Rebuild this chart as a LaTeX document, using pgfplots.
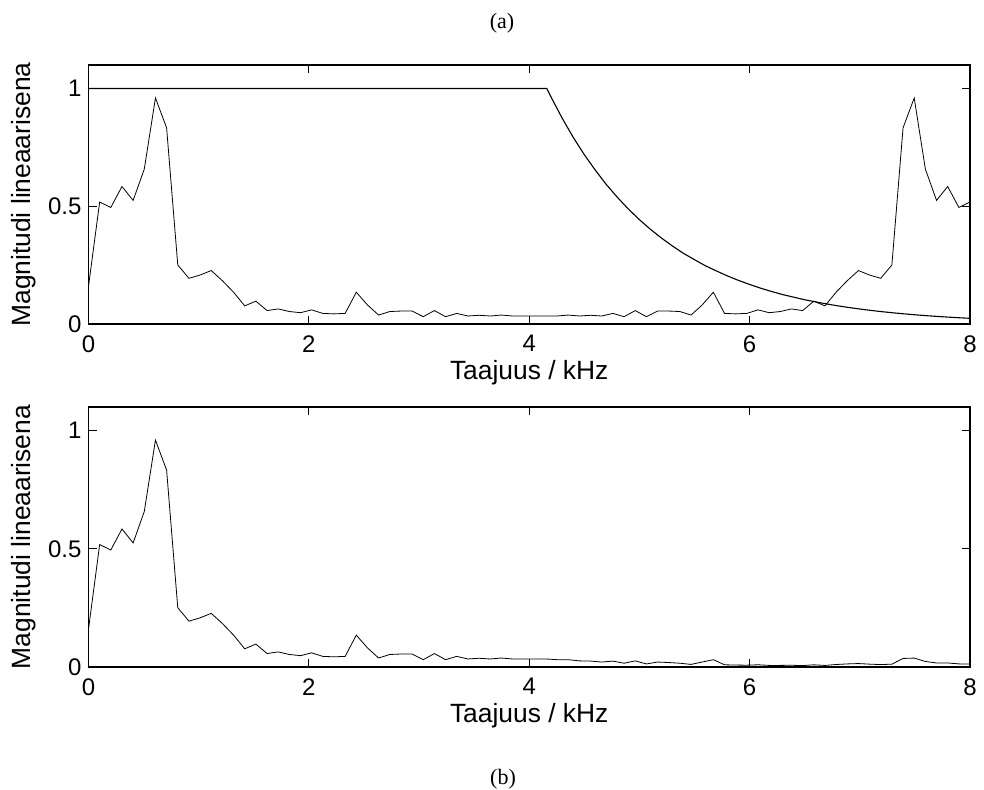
\documentclass[border=0pt]{standalone}
\usepackage{fontspec}
\setmainfont{Liberation Sans}
\newfontfamily\timesf{Liberation Serif}
\usepackage{pgfplots}
\usepackage{pgfplotstable}
\pgfplotsset{compat=1.18}

\pgfplotstableread{
x y
0 0.160
0.1013 0.518
0.2025 0.495
0.3038 0.584
0.4051 0.525
0.5063 0.658
0.6076 0.960
0.7089 0.833
0.8101 0.251
0.9114 0.194
1.0127 0.208
1.1139 0.227
1.2152 0.184
1.3165 0.135
1.4177 0.077
1.5190 0.097
1.6203 0.057
1.7215 0.064
1.8228 0.053
1.9241 0.048
2.0253 0.060
2.1266 0.045
2.2278 0.043
2.3291 0.045
2.4304 0.135
2.5316 0.081
2.6329 0.038
2.7342 0.053
2.8354 0.055
2.9367 0.055
3.0380 0.031
3.1392 0.057
3.2405 0.031
3.3418 0.045
3.4430 0.034
3.5443 0.037
3.6456 0.034
3.7468 0.038
3.8481 0.034
3.9494 0.034
4.0506 0.034
4.1519 0.034
4.2532 0.034
4.3544 0.038
4.4557 0.034
4.5570 0.037
4.6582 0.034
4.7595 0.045
4.8608 0.031
4.9620 0.057
5.0633 0.031
5.1646 0.055
5.2658 0.055
5.3671 0.053
5.4684 0.038
5.5696 0.081
5.6709 0.135
5.7722 0.045
5.8734 0.043
5.9747 0.045
6.0759 0.060
6.1772 0.048
6.2785 0.053
6.3797 0.064
6.4810 0.057
6.5823 0.097
6.6835 0.077
6.7848 0.135
6.8861 0.184
6.9873 0.227
7.0886 0.208
7.1899 0.194
7.2911 0.251
7.3924 0.833
7.4937 0.960
7.5949 0.658
7.6962 0.525
7.7975 0.584
7.8987 0.495
8.0 0.518
}\specA

\pgfplotstableread{
x y
0 1
4.16 1
4.2 0.962
4.3 0.873
4.4 0.792
4.5 0.719
4.6 0.653
4.7 0.592
4.8 0.538
4.9 0.488
5.0 0.443
5.1 0.402
5.2 0.365
5.3 0.331
5.4 0.300
5.5 0.273
5.6 0.247
5.7 0.225
5.8 0.204
5.9 0.185
6.0 0.168
6.1 0.152
6.2 0.138
6.3 0.125
6.4 0.114
6.5 0.103
6.6 0.0938
6.7 0.0851
6.8 0.0772
6.9 0.0701
7.0 0.0636
7.1 0.0577
7.2 0.0524
7.3 0.0476
7.4 0.0432
7.5 0.0392
7.6 0.0355
7.7 0.0323
7.8 0.0293
7.9 0.0266
8.0 0.0241
}\filt

\pgfplotstableread{
x y
0 0.160
0.1013 0.518
0.2025 0.495
0.3038 0.584
0.4051 0.525
0.5063 0.658
0.6076 0.960
0.7089 0.833
0.8101 0.251
0.9114 0.194
1.0127 0.208
1.1139 0.227
1.2152 0.184
1.3165 0.135
1.4177 0.077
1.5190 0.097
1.6203 0.057
1.7215 0.064
1.8228 0.053
1.9241 0.048
2.0253 0.060
2.1266 0.045
2.2278 0.043
2.3291 0.045
2.4304 0.135
2.5316 0.081
2.6329 0.038
2.7342 0.053
2.8354 0.055
2.9367 0.055
3.0380 0.031
3.1392 0.057
3.2405 0.031
3.3418 0.045
3.4430 0.034
3.5443 0.037
3.6456 0.034
3.7468 0.038
3.8481 0.034
3.9494 0.034
4.0506 0.034
4.1519 0.034
4.2532 0.031
4.3544 0.031
4.4557 0.026
4.5570 0.025
4.6582 0.021
4.7595 0.025
4.8608 0.016
4.9620 0.026
5.0633 0.013
5.1646 0.021
5.2658 0.019
5.3671 0.016
5.4684 0.011
5.5696 0.021
5.6709 0.031
5.7722 0.0094
5.8734 0.0082
5.9747 0.0077
6.0759 0.0094
6.1772 0.0068
6.2785 0.0068
6.3797 0.0074
6.4810 0.0060
6.5823 0.0093
6.6835 0.0067
6.7848 0.0106
6.8861 0.0131
6.9873 0.0146
7.0886 0.0121
7.1899 0.0103
7.2911 0.0120
7.3924 0.0362
7.4937 0.0378
7.5949 0.0235
7.6962 0.0170
7.7975 0.0172
7.8987 0.0132
8.0 0.0125
}\specB

\pgfplotsset{
  myax/.style={
    scale only axis,
    width=440.75pt,
    xmin=0, xmax=8, ymin=0, ymax=1.1,
    xtick={0,2,4,6,8}, ytick={0,0.5,1},
    tick align=inside,
    major tick length=4pt,
    tick style={black, line width=0.5pt},
    axis line style={black, line width=0.6pt},
    ticklabel style={font=\fontsize{12}{14}\selectfont},
    /pgf/number format/assume math mode=true,
    xticklabel style={yshift=-3.5pt, inner sep=2pt},
    xlabel={Taajuus / kHz},
    ylabel={Magnitudi lineaarisena},
    every axis y label/.style={at={(axis description cs:-0.0732,0.5)}, anchor=center, rotate=90, font=\fontsize{13.2}{15}\selectfont},
    every axis x label/.style={at={(axis description cs:0.5,-0.186)}, anchor=center, inner sep=1pt, font=\fontsize{13.2}{15}\selectfont},
    cycle list={{black, line width=0.55pt}},
    no markers,
  }
}

\begin{document}
\begin{tikzpicture}[x=1pt,y=1pt]
\path[use as bounding box] (0,0) rectangle (492,394.5);
\node[font=\timesf\fontsize{11}{13}\selectfont] at (251,383) {(a)};
\node[font=\timesf\fontsize{11}{13}\selectfont] at (251.5,5) {(b)};

\begin{axis}[myax, height=129.5pt, at={(44.25pt,232.5pt)}, anchor=south west]
\addplot table[x=x,y=y] {\specA};
\addplot table[x=x,y=y] {\filt};
\end{axis}

\begin{axis}[myax, height=130pt, at={(44.25pt,61pt)}, anchor=south west]
\addplot table[x=x,y=y] {\specB};
\end{axis}
\end{tikzpicture}
\end{document}
